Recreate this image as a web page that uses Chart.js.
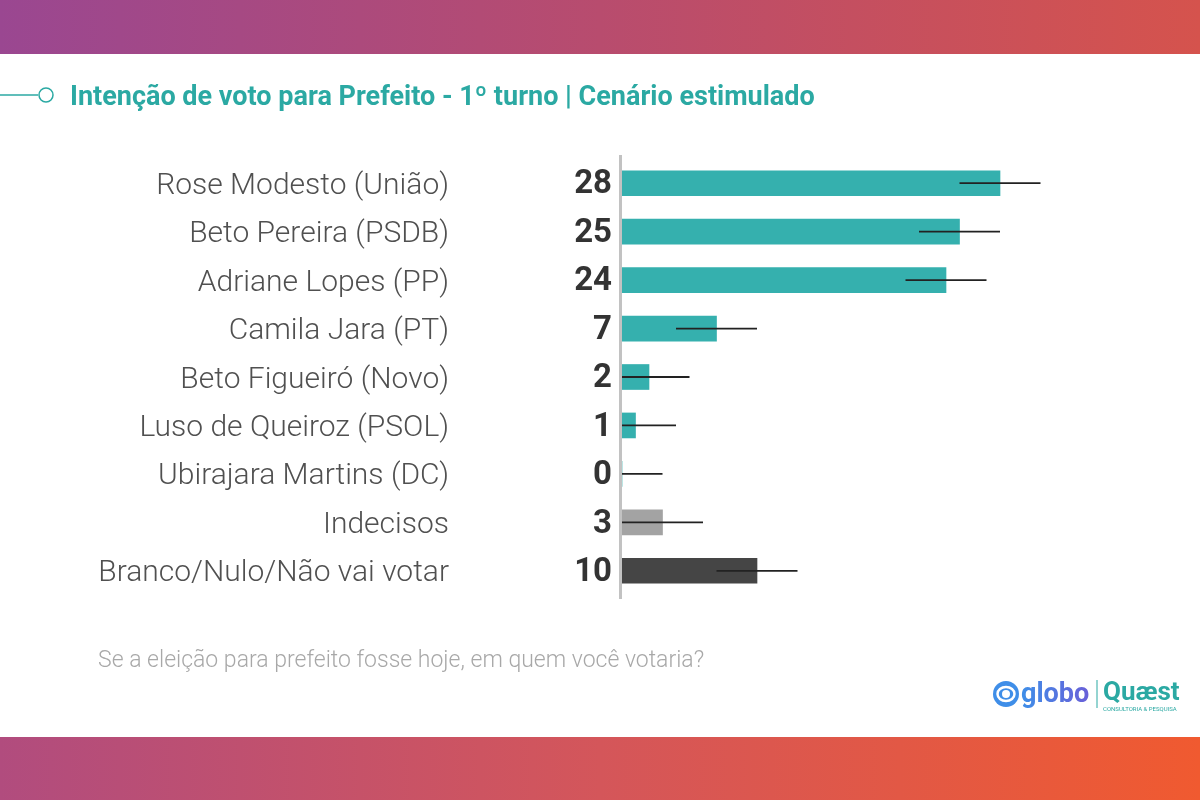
<!DOCTYPE html>
<html>
<head>
<meta charset="utf-8">
<script src="https://cdn.jsdelivr.net/npm/chart.js@4"></script>
<style>
  html, body { margin: 0; padding: 0; background: #fff; }
  canvas { display: block; }
</style>
</head>
<body>
<canvas id="chart" width="1200" height="800"></canvas>
<script>
const candidatos = [
  'Rose Modesto (União)',
  'Beto Pereira (PSDB)',
  'Adriane Lopes (PP)',
  'Camila Jara (PT)',
  'Beto Figueiró (Novo)',
  'Luso de Queiroz (PSOL)',
  'Ubirajara Martins (DC)',
  'Indecisos',
  'Branco/Nulo/Não vai votar'
]
const votos = [28, 25, 24, 7, 2, 1, 0, 3, 10]
const margem = [3, 3, 3, 3, 3, 3, 3, 3, 3]
const cores = ['#35b0ae', '#35b0ae', '#35b0ae', '#35b0ae', '#35b0ae', '#35b0ae', '#35b0ae', '#a3a3a3', '#454545']

const titulo = 'Intenção de voto para Prefeito - 1º turno | Cenário estimulado'
const pergunta = 'Se a eleição para prefeito fosse hoje, em quem você votaria?'

const moldura = {
  id: 'moldura',
  beforeDraw(chart) {
    const ctx = chart.ctx
    ctx.save()
    // faixas coloridas
    let g = ctx.createLinearGradient(0, 0, 1200, 0)
    g.addColorStop(0, '#9a4791')
    g.addColorStop(0.5, '#b84c6e')
    g.addColorStop(1, '#d5534d')
    ctx.fillStyle = g
    ctx.fillRect(0, 0, 1200, 54)
    g = ctx.createLinearGradient(0, 0, 1200, 0)
    g.addColorStop(0, '#b14c7e')
    g.addColorStop(0.5, '#d4565a')
    g.addColorStop(1, '#f05a30')
    ctx.fillStyle = g
    ctx.fillRect(0, 737, 1200, 63)

    // titulo
    ctx.strokeStyle = '#2ba9a3'
    ctx.lineWidth = 1.5
    ctx.beginPath()
    ctx.moveTo(0, 95)
    ctx.lineTo(38, 95)
    ctx.stroke()
    ctx.beginPath()
    ctx.arc(46, 95, 7, 0, Math.PI * 2)
    ctx.stroke()
    ctx.fillStyle = '#2ba9a3'
    ctx.font = 'bold 27px Roboto'
    ctx.textBaseline = 'alphabetic'
    ctx.fillText(titulo, 70, 105, 748)

    // pergunta
    ctx.fillStyle = '#a8a8a8'
    ctx.font = '300 23px Roboto'
    ctx.fillText(pergunta, 98, 667)

    // logos
    ctx.fillStyle = '#3f8ee8'
    ctx.beginPath()
    ctx.arc(1006, 694, 13, 0, Math.PI * 2)
    ctx.fill()
    ctx.strokeStyle = '#fff'
    ctx.lineWidth = 2.5
    ctx.beginPath()
    ctx.ellipse(1006, 694, 8.5, 7, 0, 0, Math.PI * 2)
    ctx.stroke()
    ctx.fillStyle = '#fff'
    ctx.beginPath()
    ctx.arc(1006, 694, 4, 0, Math.PI * 2)
    ctx.fill()
    g = ctx.createLinearGradient(1022, 0, 1090, 0)
    g.addColorStop(0, '#3f8ee8')
    g.addColorStop(1, '#6a5fd8')
    ctx.fillStyle = g
    ctx.font = 'bold 27px Roboto'
    ctx.fillText('globo', 1021, 702)
    ctx.strokeStyle = '#2ba9a3'
    ctx.lineWidth = 1
    ctx.beginPath()
    ctx.moveTo(1097, 680)
    ctx.lineTo(1097, 708)
    ctx.stroke()
    ctx.fillStyle = '#2ba9a3'
    ctx.font = 'bold 26px Roboto'
    ctx.fillText('Quæst', 1103, 700, 80)
    ctx.font = '6px Roboto'
    ctx.fillText('CONSULTORIA & PESQUISA', 1103, 711, 80)
    ctx.restore()
  },
  afterDatasetsDraw(chart) {
    const ctx = chart.ctx
    const x = chart.scales.x
    const area = chart.chartArea
    const barras = chart.getDatasetMeta(0).data
    ctx.save()
    // eixo vertical
    ctx.strokeStyle = '#c2c2c2'
    ctx.lineWidth = 3
    ctx.beginPath()
    ctx.moveTo(area.left - 1.5, 155)
    ctx.lineTo(area.left - 1.5, 599)
    ctx.stroke()
    // margem de erro
    ctx.strokeStyle = '#222'
    ctx.lineWidth = 1.8
    barras.forEach((b, i) => {
      const x0 = x.getPixelForValue(Math.max(0, votos[i] - margem[i]))
      const x1 = x.getPixelForValue(votos[i] + margem[i])
      ctx.beginPath()
      ctx.moveTo(x0, b.y)
      ctx.lineTo(x1, b.y)
      ctx.stroke()
    })
    // valores
    ctx.fillStyle = '#333'
    ctx.font = 'bold 33px Roboto'
    ctx.textAlign = 'right'
    ctx.textBaseline = 'middle'
    barras.forEach((b, i) => {
      ctx.fillText(String(votos[i]), area.left - 10, b.y + 2)
    })
    ctx.restore()
  }
}

new Chart('chart', {
  type: 'bar',
  data: {
    labels: candidatos,
    datasets: [{
      data: votos,
      backgroundColor: cores,
      borderWidth: 0,
      barThickness: 25
    }]
  },
  options: {
    indexAxis: 'y',
    responsive: false,
    animation: false,
    events: [],
    layout: { padding: { top: 159, bottom: 205, left: 0, right: 38 } },
    plugins: { legend: { display: false }, tooltip: { enabled: false } },
    scales: {
      x: { display: false, min: 0, max: 40 },
      y: {
        afterFit(scale) {
          scale.width = 622
          scale.paddingTop = 0
          scale.paddingBottom = 0
        },
        border: { display: false },
        grid: { display: false, drawTicks: false },
        ticks: {
          padding: 173,
          labelOffset: 3,
          color: '#505050',
          font: { family: 'Roboto', size: 30, weight: 300 }
        }
      }
    }
  },
  plugins: [moldura]
})
</script>
</body>
</html>
